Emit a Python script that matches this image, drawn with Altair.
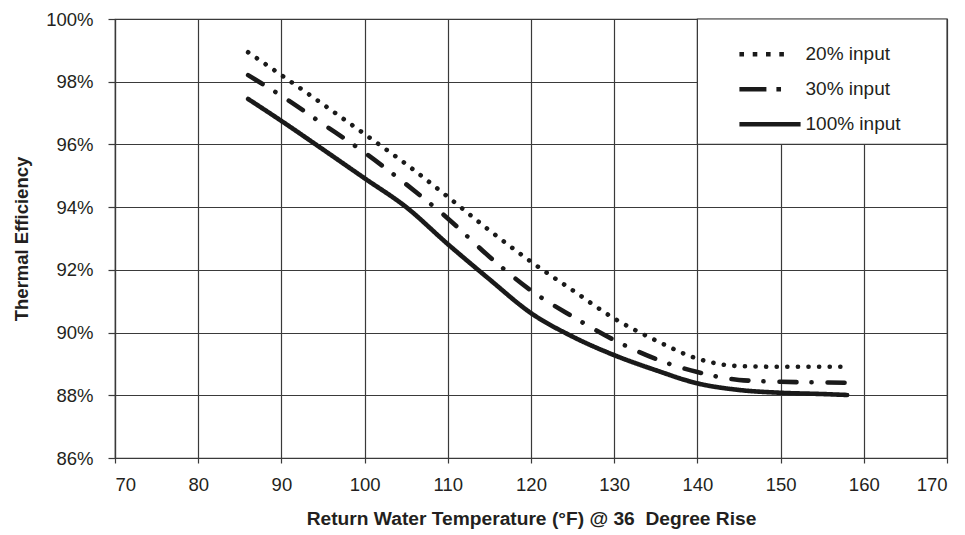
import altair as alt
import pandas as pd

# ---- data ----
temps = [86, 90, 95, 100, 105, 110, 115, 120, 125, 130, 135, 140, 145, 150, 155, 158]
eff_20 = [98.94, 98.21, 97.28, 96.33, 95.37, 94.33, 93.26, 92.26, 91.35, 90.45, 89.75, 89.17, 88.93, 88.91, 88.91, 88.91]
eff_30 = [98.21, 97.55, 96.65, 95.74, 94.73, 93.64, 92.42, 91.34, 90.51, 89.76, 89.16, 88.74, 88.49, 88.43, 88.41, 88.40]
eff_100 = [97.45, 96.75, 95.84, 94.92, 94.00, 92.82, 91.70, 90.62, 89.87, 89.28, 88.80, 88.38, 88.17, 88.08, 88.04, 88.01]
series_names = ["20% input", "30% input", "100% input"]
x_ticks = list(range(70, 171, 10))
y_ticks = list(range(86, 101, 2))
legend_box_x = [140, 170]
legend_box_y = [96, 100]

rows = []
for name, vals in zip(series_names, [eff_20, eff_30, eff_100]):
    for t, v in zip(temps, vals):
        rows.append({"temp": t, "eff": v, "series": name})
df = pd.DataFrame(rows)
box = pd.DataFrame({"x": [legend_box_x[0]], "x2": [legend_box_x[1]],
                    "y": [legend_box_y[0]], "y2": [legend_box_y[1]]})

FONT = "Liberation Sans"
INK = "#231f20"
GRID = "#3a3a3a"
LINE = "#1a1a1a"

xscale = alt.Scale(domain=[70, 170], nice=False, zero=False)
yscale = alt.Scale(domain=[86, 100], nice=False, zero=False)

xaxis = alt.Axis(values=x_ticks, title="Return Water Temperature (°F) @ 36\u00a0 Degree Rise",
                 grid=True, tickSize=5, labelPadding=12, titlePadding=16,
                 labelFontSize=18.5, titleFontSize=19.2, titleFontWeight="bold")
yaxis = alt.Axis(values=y_ticks, title="Thermal Efficiency", grid=True, tickSize=7,
                 labelPadding=15, titlePadding=14, labelExpr="datum.value + '%'",
                 labelFontSize=18.5, titleFontSize=18.5, titleFontWeight="bold")

# the visible curves (round caps turn tiny dashes into dots)
lines = alt.Chart(df).mark_line(
    strokeWidth=4.6, strokeCap="round", strokeJoin="round", interpolate="monotone", color=LINE
).encode(
    x=alt.X("temp:Q", scale=xscale, axis=xaxis),
    y=alt.Y("eff:Q", scale=yscale, axis=yaxis),
    strokeDash=alt.StrokeDash(
        "series:N",
        scale=alt.Scale(domain=series_names, range=[[0.1, 10.5], [17, 15, 0.1, 16], [1, 0]]),
        sort=series_names, legend=None,
    ),
    order=alt.Order("temp:Q"),
)

# invisible twin layer that only supplies the legend (legend symbols use butt caps)
legend_src = alt.Chart(df).mark_line(opacity=0, strokeWidth=4.6, color=LINE).encode(
    x=alt.X("temp:Q", scale=xscale),
    y=alt.Y("eff:Q", scale=yscale),
    strokeDash=alt.StrokeDash(
        "series:N",
        scale=alt.Scale(domain=series_names,
                        range=[[4.6, 8.7, 4.6, 8.7, 4.6, 8.7, 4.6, 40], [27, 10, 4.6, 40], [1, 0]]),
        sort=series_names,
        legend=alt.Legend(
            title=None, orient="none", legendX=630.5, legendY=10.7,
            symbolType="M-1.4,0H1.4", symbolSize=1909, symbolStrokeWidth=4.6, symbolOpacity=1,
            symbolStrokeColor=LINE, labelFontSize=19, labelOffset=11,
            labelColor=INK, labelFont=FONT, rowPadding=0, padding=0,
        ),
    ),
)

legend_box = alt.Chart(box).mark_rect(fill="white", stroke=GRID, strokeWidth=1.2).encode(
    x=alt.X("x:Q", scale=xscale), x2="x2:Q",
    y=alt.Y("y:Q", scale=yscale), y2="y2:Q",
)

chart = alt.layer(legend_box, lines, legend_src).resolve_scale(
    strokeDash="independent"
).properties(
    width=832, height=439,
    autosize=alt.AutoSizeParams(type="none"),
    padding={"left": 107, "top": 11, "right": 10, "bottom": 76},
).configure_view(stroke=GRID, strokeWidth=1.2).configure_axis(
    labelFont=FONT, titleFont=FONT, labelColor=INK, titleColor=INK,
    gridColor=GRID, gridWidth=1.2, gridOpacity=1, domainColor=GRID, domainWidth=1.2,
    tickColor=GRID, tickWidth=1.2,
)

chart.save("out.html", embed_options={"renderer": "svg", "actions": False})
